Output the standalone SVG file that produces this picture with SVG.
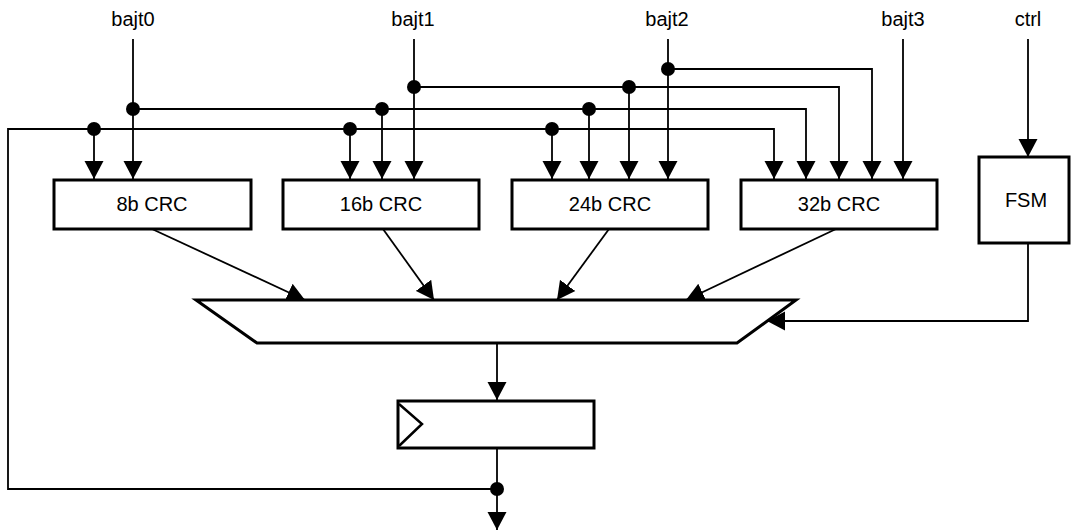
<svg xmlns="http://www.w3.org/2000/svg" width="1073" height="532" viewBox="0 0 1073 532">
<style>
.box{fill:#fff;stroke:#000;stroke-width:3}
.w{fill:none;stroke:#000;stroke-width:1.8}
.wa{fill:none;stroke:#000;stroke-width:1.8;marker-end:url(#ah)}
.dot{fill:#000}
text{font-family:"Liberation Sans",Arial,sans-serif;font-size:20px;fill:#000;text-anchor:middle}
</style>
<defs>
<marker id="ah" viewBox="0 0 20 20" refX="19" refY="10" markerWidth="19" markerHeight="20" markerUnits="userSpaceOnUse" orient="auto">
<path d="M0,0 L19,10 L0,20 z" fill="#000"/>
</marker>
</defs>
<g id="labels">
<text x="133" y="26">bajt0</text>
<text x="413" y="26">bajt1</text>
<text x="667" y="26">bajt2</text>
<text x="903" y="26">bajt3</text>
<text x="1028" y="26">ctrl</text>
</g>
<g id="connectors">
<path class="wa" d="M133,39 V179"/>
<path class="wa" d="M133,109 H806 V179"/>
<path class="wa" d="M382,109 V179"/>
<path class="wa" d="M589,109 V179"/>
<path class="wa" d="M414,39 V179"/>
<path class="wa" d="M414,87 H839 V179"/>
<path class="wa" d="M629,87 V179"/>
<path class="wa" d="M668,39 V179"/>
<path class="wa" d="M668,69 H872 V179"/>
<path class="wa" d="M903,39 V179"/>
<path class="wa" d="M497,489 H8 V129 H774 V179"/>
<path class="wa" d="M94,129 V179"/>
<path class="wa" d="M350,129 V179"/>
<path class="wa" d="M552,129 V179"/>
<path class="wa" d="M1028,39 V157"/>
<path class="wa" d="M1028,243 V321 H767"/>
<path class="wa" d="M152,229 L305,300"/>
<path class="wa" d="M383,229 L434,300"/>
<path class="wa" d="M609,229 L557,300"/>
<path class="wa" d="M836,229 L686,300"/>
<path class="wa" d="M497,343 V400"/>
<path class="wa" d="M497,448 V530"/>
<circle class="dot" cx="133" cy="109" r="7"/>
<circle class="dot" cx="382" cy="109" r="7"/>
<circle class="dot" cx="589" cy="109" r="7"/>
<circle class="dot" cx="414" cy="87" r="7"/>
<circle class="dot" cx="629" cy="87" r="7"/>
<circle class="dot" cx="668" cy="69" r="7"/>
<circle class="dot" cx="94" cy="129" r="7"/>
<circle class="dot" cx="350" cy="129" r="7"/>
<circle class="dot" cx="552" cy="129" r="7"/>
<circle class="dot" cx="497" cy="489" r="7"/>
</g>
<g id="crc8"><rect class="box" x="54" y="180" width="197" height="49"/><text x="152" y="211">8b CRC</text></g>
<g id="crc16"><rect class="box" x="283" y="180" width="196" height="49"/><text x="381" y="211">16b CRC</text></g>
<g id="crc24"><rect class="box" x="512" y="180" width="196" height="49"/><text x="610" y="211">24b CRC</text></g>
<g id="crc32"><rect class="box" x="741" y="180" width="196" height="49"/><text x="839" y="211">32b CRC</text></g>
<g id="fsm"><rect class="box" x="979" y="157" width="90" height="86"/><text x="1026" y="207">FSM</text></g>
<g id="mux"><polygon class="box" points="196,300 796,300 737,343 257,343"/></g>
<g id="reg"><rect class="box" x="398" y="401" width="196" height="47"/><polyline points="399,404 422,424 399,446" fill="none" stroke="#000" stroke-width="2.5"/></g>
</svg>
